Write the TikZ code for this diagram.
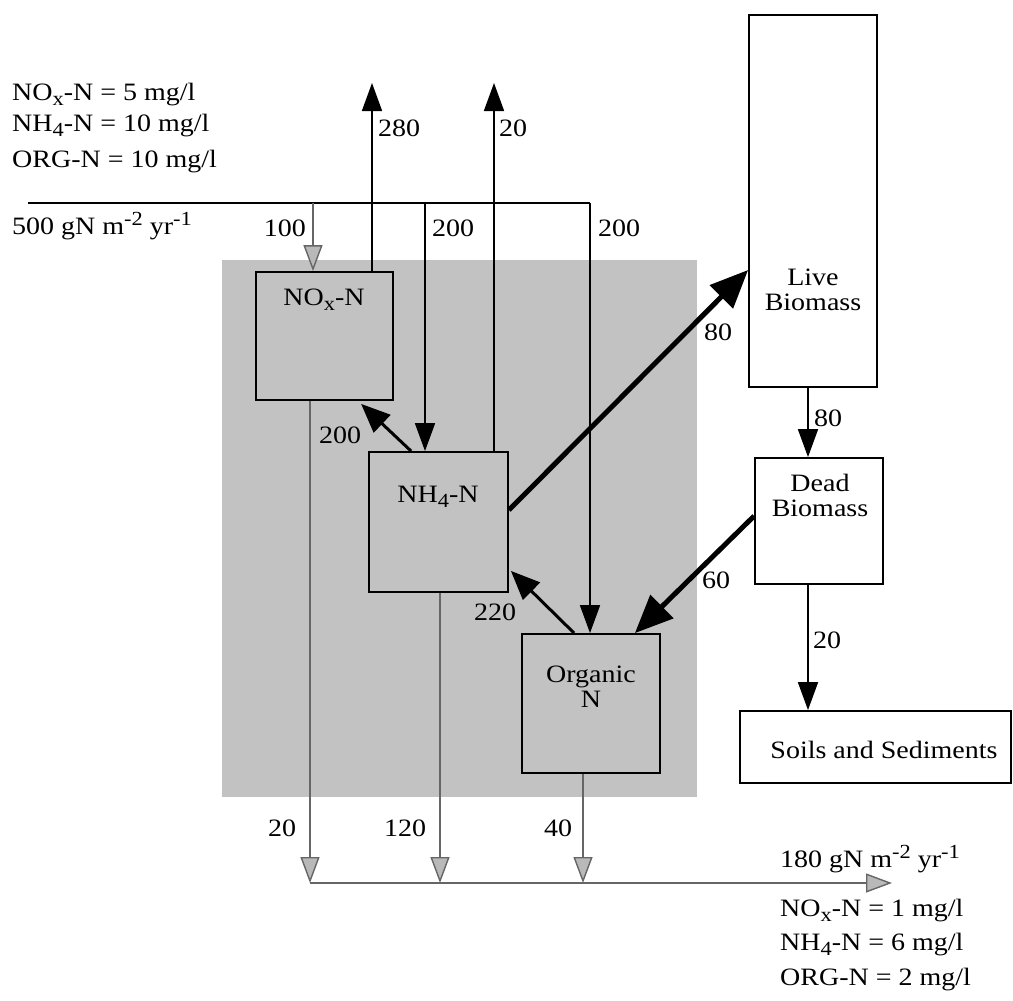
\documentclass[tikz,border=0pt]{standalone}
\usepackage{fontspec}
\setmainfont{Liberation Serif}[FakeStretch=1.12]
\usetikzlibrary{arrows.meta,calc}
\newcommand\mysub[1]{\raisebox{-0.45ex}{\fontsize{20}{20}\selectfont #1}}
\newcommand\mysup[1]{\raisebox{0.75ex}{\fontsize{20}{20}\selectfont #1}}
\begin{document}
\begin{tikzpicture}[x=1pt,y=-1pt, font=\fontsize{25}{29}\selectfont,
 box/.style={draw, line width=1.8pt, inner sep=0pt},
 boxin/.style={box, fill=shade},
 boxout/.style={box, fill=white},
 lbl/.style={inner sep=0pt},
 txt/.style={inner sep=0pt, anchor=base west},
 flow/.style={line width=1.7pt, -{Triangle[length=28pt,width=20pt]}},
 gflow/.style={draw=flowgray, line width=1.4pt, -{Triangle[length=26pt,width=19pt,color=flowgray,fill=gray!55]}},
 heavy/.style={line width=5pt, -{Triangle[length=38pt,width=32pt]}},
 med/.style={line width=3pt, -{Triangle[length=29pt,width=24pt]}},
]
\definecolor{shade}{gray}{0.76}
\definecolor{flowgray}{gray}{0.4}
\useasboundingbox (0,0) rectangle (1013,1001);

% shaded water column
\node[fill=shade, minimum width=475pt, minimum height=537pt, inner sep=0pt] (wet) at (459.5,528.5) {};

% boxes
\node[boxin, minimum width=137pt, minimum height=128pt] (nox) at (324.5,336) {};
\node[boxin, minimum width=139pt, minimum height=140pt] (nh4) at (438.5,522) {};
\node[boxin, minimum width=138pt, minimum height=139pt] (org) at (591,703.5) {};
\node[boxout, minimum width=128pt, minimum height=372pt] (live) at (813,201) {};
\node[boxout, minimum width=128pt, minimum height=126pt] (dead) at (819,521) {};
\node[boxout, minimum width=271pt, minimum height=72pt] (soil) at (875.5,747) {};

% box texts
\node[lbl] (noxT) at (324,300) {NO\mysub{x}-N};
\node[lbl] (nh4T) at (438,497) {NH\mysub{4}-N};
\node[lbl, align=center] (orgT) at (591,687) {Organic\\[-4pt]N};
\node[lbl, align=center] (liveT) at (813,290) {Live\\[-4pt]Biomass};
\node[lbl, align=center] (deadT) at (820,495) {Dead\\[-4pt]Biomass};
\node[lbl] (soilT) at (884,750) {Soils and Sediments};

% coordinates
\coordinate (inL) at (28,203);
\coordinate (j100) at (313,203);
\coordinate (j200a) at (425,203);
\coordinate (j200b) at (590,203);
\coordinate (t280) at (372,83);
\coordinate (t20) at (494,83);
\coordinate (xD) at (808,0);
\coordinate (o1) at (310,883);
\coordinate (o2) at (440,883);
\coordinate (o3) at (583,883);
\coordinate (oEnd) at (892,883);

% inflow
\draw[line width=1.4pt] (inL) -- (j200b);
\draw[gflow] (j100) -- (nox.north -| j100);
\draw[flow] (nox.north -| t280) -- (t280);
\draw[flow] (j200a) -- (nh4.north -| j200a);
\draw[flow] (nh4.north -| t20) -- (t20);
\draw[flow] (j200b) -- (org.north -| j200b);

% internal transfers
\draw[med] ($(nh4.north west)+(43,0)$) -- ($(nox.south west)+(106,3)$);
\draw[med] ($(org.north west)+(53,0)$) -- ($(nh4.south east)+(2,-22)$);
\draw[heavy] ($(nh4.east)+(0,-12)$) -- ($(live.west)+(0,69)$);
\draw[heavy] ($(dead.west)+(0,-5)$) -- ($(org.north east)+(-26,0)$);
\draw[flow] (live.south -| xD) -- (dead.north -| xD);
\draw[flow] (dead.south -| xD) -- (soil.north -| xD);

% outflow
\draw[gflow] (nox.south -| o1) -- (o1);
\draw[gflow] (nh4.south -| o2) -- (o2);
\draw[gflow] (org.south -| o3) -- (o3);
\draw[gflow] (o1) -- (oEnd);

% flow labels
\node[lbl, anchor=east] (l100) at (306,228) {100};
\node[lbl, anchor=west] (l280) at (378,128) {280};
\node[lbl, anchor=west] (l200a) at (432,228) {200};
\node[lbl, anchor=west] (l20a) at (499,128) {20};
\node[lbl, anchor=west] (l200b) at (598,228) {200};
\node[lbl] (l200c) at (340,435) {200};
\node[lbl] (l80a) at (718,332) {80};
\node[lbl, anchor=west] (l80b) at (814,418) {80};
\node[lbl] (l60) at (716,580) {60};
\node[lbl, anchor=west] (l20b) at (813,640) {20};
\node[lbl] (l220) at (495,612) {220};
\node[lbl] (l20c) at (282,828) {20};
\node[lbl] (l120) at (405,828) {120};
\node[lbl] (l40) at (558,828) {40};

% inflow concentrations
\node[txt] (c1) at (12,100) {NO\mysub{x}-N = 5 mg/l};
\node[txt] (c2) at (12,131) {NH\mysub{4}-N = 10 mg/l};
\node[txt] (c3) at (12,167) {ORG-N = 10 mg/l};
\node[txt] (qin) at (12,234) {500 gN m\mysup{-2} yr\mysup{-1}};

% outflow concentrations
\node[txt] (qout) at (780,867) {180 gN m\mysup{-2} yr\mysup{-1}};
\node[txt] (d1) at (780,916) {NO\mysub{x}-N = 1 mg/l};
\node[txt] (d2) at (780,950) {NH\mysub{4}-N = 6 mg/l};
\node[txt] (d3) at (780,985) {ORG-N = 2 mg/l};
\end{tikzpicture}
\end{document}
